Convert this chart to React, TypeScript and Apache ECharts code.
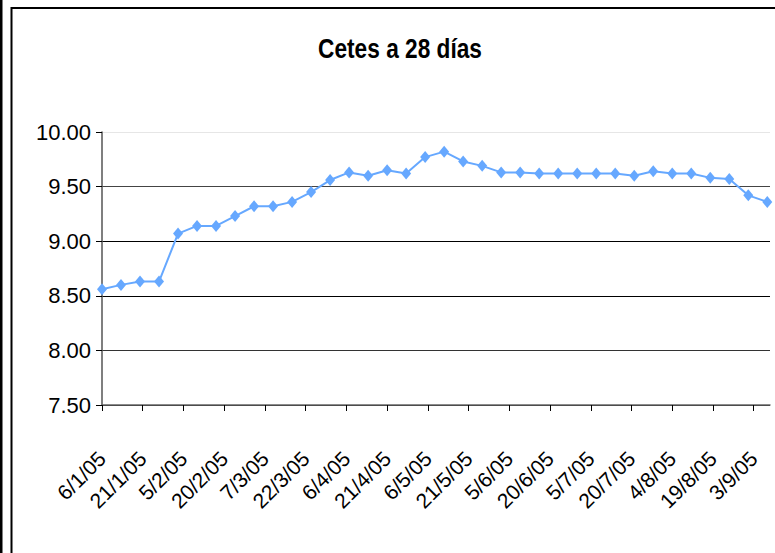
import React, { useEffect, useRef } from "react";
import * as echarts from "echarts";

const titleText = "Cetes a 28 días";

const dates = [
  "2005-01-06", "2005-01-13", "2005-01-20", "2005-01-27",
  "2005-02-03", "2005-02-10", "2005-02-17", "2005-02-24",
  "2005-03-03", "2005-03-10", "2005-03-17", "2005-03-24", "2005-03-31",
  "2005-04-07", "2005-04-14", "2005-04-21", "2005-04-28",
  "2005-05-05", "2005-05-12", "2005-05-19", "2005-05-26",
  "2005-06-02", "2005-06-09", "2005-06-16", "2005-06-23", "2005-06-30",
  "2005-07-07", "2005-07-14", "2005-07-21", "2005-07-28",
  "2005-08-04", "2005-08-11", "2005-08-18", "2005-08-25",
  "2005-09-01", "2005-09-08",
];

const values = [
  8.56, 8.6, 8.63, 8.63,
  9.07, 9.14, 9.14, 9.23,
  9.32, 9.32, 9.36, 9.45, 9.56,
  9.63, 9.6, 9.65, 9.62,
  9.77, 9.82, 9.73, 9.69,
  9.63, 9.63, 9.62, 9.62, 9.62,
  9.62, 9.62, 9.6, 9.64,
  9.62, 9.62, 9.58, 9.57,
  9.42, 9.36,
];

const xTickLabels = [
  "6/1/05", "21/1/05", "5/2/05", "20/2/05", "7/3/05", "22/3/05",
  "6/4/05", "21/4/05", "6/5/05", "21/5/05", "5/6/05", "20/6/05",
  "5/7/05", "20/7/05", "4/8/05", "19/8/05", "3/9/05",
];

const yMin = 7.5;
const yMax = 10;
const yStep = 0.5;
const xEndDate = "2005-09-09";

const DAY = 86400000;
const origin = Date.UTC(2005, 0, 6);
const isoToDay = (s: string) => {
  const [y, m, d] = s.split("-").map(Number);
  return Math.round((Date.UTC(y, m - 1, d) - origin) / DAY);
};
const labelToDay = (s: string) => {
  const [d, m, yy] = s.split("/").map(Number);
  return Math.round((Date.UTC(2000 + yy, m - 1, d) - origin) / DAY);
};
const dayToLabel = (v: number) => {
  const dt = new Date(origin + v * DAY);
  return `${dt.getUTCDate()}/${dt.getUTCMonth() + 1}/${String(dt.getUTCFullYear()).slice(2)}`;
};

export default function App() {
  const ref = useRef<HTMLDivElement>(null);

  useEffect(() => {
    if (!ref.current) return;
    const chart = echarts.init(ref.current, null, { renderer: "svg" });
    const tickDays = xTickLabels.map(labelToDay);
    const font = "'Liberation Sans', Arial, sans-serif";
    chart.setOption({
      animation: false,
      backgroundColor: "#ffffff",
      grid: { left: 102, right: 5, top: 132, bottom: 148 },
      xAxis: {
        type: "value",
        min: 0,
        max: isoToDay(xEndDate),
        axisLine: { show: true, lineStyle: { color: "#666", width: 1.5 } },
        axisTick: {
          show: true,
          length: 6,
          customValues: tickDays,
          lineStyle: { color: "#000" },
        },
        axisLabel: {
          customValues: tickDays,
          rotate: 45,
          margin: 50,
          formatter: (v: number) => dayToLabel(v),
          fontFamily: font,
          fontSize: 21,
          color: "#000",
        },
        splitLine: { show: false },
      },
      yAxis: {
        type: "value",
        min: yMin,
        max: yMax,
        interval: yStep,
        axisLine: { show: true, lineStyle: { color: "#555", width: 1.5 } },
        axisTick: { show: true, length: 6, lineStyle: { color: "#000" } },
        axisLabel: {
          margin: 11,
          formatter: (v: number) => v.toFixed(2),
          fontFamily: font,
          fontSize: 22,
          color: "#000",
        },
        splitLine: {
          show: true,
          lineStyle: {
            color: ["#000", "#333", "#000", "#000", "#444", "#e6e6e6"],
            width: 1,
          },
        },
      },
      series: [
        {
          type: "line",
          data: dates.map((d, i) => [isoToDay(d), values[i]]),
          symbol: "diamond",
          symbolSize: [10, 12],
          itemStyle: { color: "#66a8ff" },
          lineStyle: { color: "#66a8ff", width: 2 },
          z: 5,
        },
      ],
      graphic: [
        {
          type: "rect",
          shape: { x: 0, y: 0, width: 2.5, height: 553 },
          style: { fill: "#000" },
          silent: true,
        },
        {
          type: "rect",
          shape: { x: 11.5, y: 8, width: 800, height: 600 },
          style: { fill: "none", stroke: "#000", lineWidth: 2 },
          silent: true,
        },
        {
          type: "text",
          x: 400,
          y: 48,
          scaleX: 0.84,
          style: {
            text: titleText,
            fill: "#000",
            font: `bold 27px ${font}`,
            textAlign: "center",
            textVerticalAlign: "middle",
          },
          silent: true,
        },
      ],
    });
    return () => chart.dispose();
  }, []);

  return (
    <div
      style={{
        position: "fixed",
        left: 0,
        top: 0,
        width: 775,
        height: 553,
        background: "#fff",
      }}
    >
      <div ref={ref} style={{ width: 775, height: 553 }} />
    </div>
  );
}
